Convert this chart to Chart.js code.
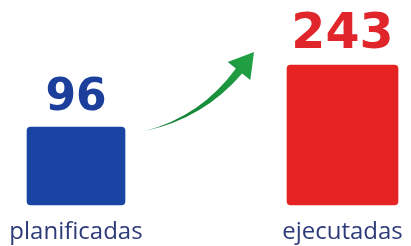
<!DOCTYPE html>
<html>
<head>
<meta charset="utf-8">
<script src="https://cdn.jsdelivr.net/npm/chart.js@4"></script>
<style>
  html, body { margin: 0; padding: 0; background: #ffffff; }
  #wrap { width: 411px; height: 246px; }
</style>
</head>
<body>
<div id="wrap"><canvas id="c" width="411" height="246"></canvas></div>
<script>
// ---- data ----
const categories = ['planificadas', 'ejecutadas'];
const values = [96, 243];
const barColors = ['#1a44a3', '#e42322'];
const valueColors = ['#1b3f9b', '#e0262a'];

// ---- styles / layout ----
const barWidths = [98, 111];
const valueFontSizes = [44, 49];
const valueBase = -88.9;

const valueLabels = {
  id: 'valueLabels',
  afterDatasetsDraw(chart) {
    const ctx = chart.ctx;
    ctx.save();
    chart.data.datasets.forEach((ds, i) => {
      const meta = chart.getDatasetMeta(i);
      meta.data.forEach((bar) => {
        ctx.font = 'bold ' + valueFontSizes[i] + 'px "DejaVu Sans"';
        ctx.fillStyle = valueColors[i];
        ctx.textAlign = 'center';
        ctx.textBaseline = 'alphabetic';
        ctx.fillText(String(values[i]), bar.x, bar.y - 17);
      });
    });
    ctx.restore();
  }
};

const arrow = {
  id: 'arrow',
  afterDatasetsDraw(chart) {
    const a = chart.getDatasetMeta(0).data[0];
    const b = chart.getDatasetMeta(1).data[0];
    const aRight = a.x + a.width / 2, aTop = a.y;
    const bLeft = b.x - b.width / 2, bTop = b.y;
    const T = { x: aRight + 20, y: aTop + 4 };
    const tip = { x: bLeft - 33, y: bTop - 13 };
    const B = { x: tip.x - 15, y: tip.y + 19 };
    const C = { x: T.x + 57, y: T.y - 14 };
    const n = { x: 0.78, y: 0.625 };
    const ctx = chart.ctx;
    ctx.save();
    const g = ctx.createLinearGradient(T.x, T.y, tip.x, tip.y);
    g.addColorStop(0, '#0f7a32');
    g.addColorStop(1, '#22a344');
    ctx.fillStyle = g;
    ctx.beginPath();
    ctx.moveTo(T.x, T.y);
    ctx.quadraticCurveTo(C.x + n.x * 2.2, C.y + n.y * 2.2, B.x + n.x * 4, B.y + n.y * 4);
    ctx.lineTo(B.x + n.x * 14.5, B.y + n.y * 14.5);
    ctx.lineTo(tip.x, tip.y);
    ctx.lineTo(B.x - n.x * 14.5, B.y - n.y * 14.5);
    ctx.lineTo(B.x - n.x * 4, B.y - n.y * 4);
    ctx.quadraticCurveTo(C.x - n.x * 1.2, C.y - n.y * 1.2, T.x, T.y);
    ctx.closePath();
    ctx.fill();
    ctx.restore();
  }
};

new Chart(document.getElementById('c'), {
  type: 'bar',
  data: {
    datasets: categories.map((cat, i) => ({
      label: cat,
      data: [{ x: i, y: values[i] }],
      backgroundColor: barColors[i],
      barThickness: barWidths[i],
      base: valueBase,
      borderRadius: 4,
      borderSkipped: false,
      grouped: false,
      clip: false
    }))
  },
  options: {
    responsive: false,
    animation: false,
    devicePixelRatio: 1,
    layout: { autoPadding: false, padding: 0 },
    plugins: { legend: { display: false }, tooltip: { enabled: false } },
    scales: {
      x: {
        type: 'linear',
        offset: false,
        bounds: 'data',
        min: -0.2852,
        max: 1.257,
        grid: { display: false, drawTicks: false, offset: false },
        border: { display: false },
        afterBuildTicks(scale) {
          scale.ticks = categories.map((_, i) => ({ value: i }));
        },
        afterFit(scale) {
          scale.height = 41;
          scale.paddingLeft = 0;
          scale.paddingRight = 0;
        },
        ticks: {
          autoSkip: false,
          maxRotation: 0,
          padding: 14,
          color: '#2d3a78',
          font: { family: '"Open Sans"', size: 24, lineHeight: 1.1 },
          callback: (v) => categories[v]
        }
      },
      y: {
        display: false,
        min: -88.9,
        max: 397.1
      }
    }
  },
  plugins: [valueLabels, arrow]
});
</script>
</body>
</html>
